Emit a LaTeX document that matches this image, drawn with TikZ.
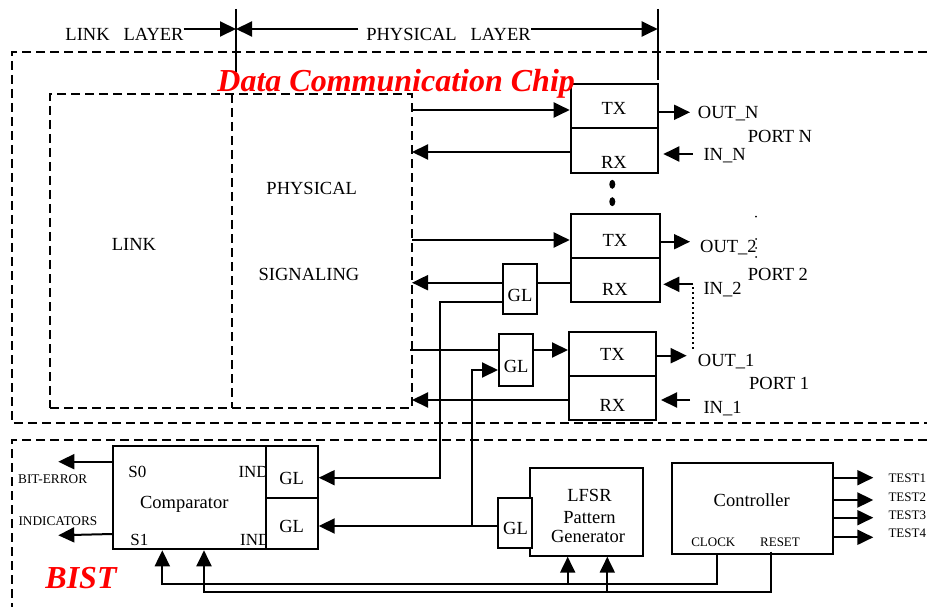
\documentclass[tikz,border=0pt]{standalone}
\usepackage{fontspec}
\setmainfont{Liberation Serif}
\usetikzlibrary{arrows.meta}
\begin{document}
\begin{tikzpicture}[x=1pt,y=-1pt,
  ln/.style={line width=2pt},
  arr/.style={line width=2pt,-{Triangle[length=16pt,width=15pt]}},
  dsh/.style={line width=2pt,dash pattern=on 9pt off 5pt},
  dotl/.style={line width=2pt,dash pattern=on 2pt off 3pt},
  blk/.style={draw,line width=2pt,inner sep=0pt,fill=white},
  txtL/.style={inner sep=0pt,font=\fontsize{18.5}{20}\selectfont,text height=12.2pt,text depth=0pt},
  txtM/.style={inner sep=0pt,font=\fontsize{17}{19}\selectfont,text height=11.2pt,text depth=0pt},
  txtS/.style={inner sep=0pt,font=\fontsize{13.3}{15}\selectfont,text height=8.8pt,text depth=0pt},
  txtT/.style={inner sep=0pt,font=\fontsize{13}{15}\selectfont,text height=8.6pt,text depth=0pt},
  ttl/.style={inner sep=0pt,text=red,font=\fontsize{32}{34}\selectfont\bfseries\itshape,text height=21pt,text depth=0pt}
]
\useasboundingbox (0,0) rectangle (927,607);

% frames
\draw[dsh] (927,52) -- (12,52) -- (12,423) -- (927,423);
\draw[dsh] (927,440) -- (12,440) -- (12,607);
\node[draw,dsh,inner sep=0pt,minimum width=362pt,minimum height=314pt] (layers) at (231,251) {};
\draw[dsh] (232,94) -- (232,408);
\node[txtL] (lnk) at (134,244) {LINK};
\node[txtL] (phy1) at (311.7,188) {PHYSICAL};
\node[txtL] (phy2) at (309,274) {SIGNALING};

% layer markers
\node[txtL] (ll) at (124.5,34) {LINK\hspace{0.75em}LAYER};
\node[txtL] (pl) at (448.5,34) {PHYSICAL\ \ \ LAYER};
\coordinate (lb) at (236,29);
\coordinate (pb) at (657.7,29);
\coordinate (plstart) at (358.3,29);
\draw[ln] (236,9) -- (236,72);
\draw[ln] (657.7,9) -- (657.7,80);
\draw[arr] (ll.east |- lb) -- (lb);
\draw[arr] (plstart) -- (lb);
\draw[arr] (pl.east |- pb) -- (pb);

% port N
\node[blk,minimum width=87pt,minimum height=43.7pt] (txN) at (614.2,105.85) {};
\node[blk,minimum width=87pt,minimum height=45.6pt] (rxN) at (614.2,150.5) {};
\node[txtL] (txNl) at (614,108.3) {TX};
\node[txtL] (rxNl) at (614,162.3) {RX};
\draw[arr] (412,110) -- (txN.west |- 0,110);
\draw[arr] (rxN.west |- 0,152) -- (412,152);
\node[txtL,anchor=west] (outN) at (697.7,112.3) {OUT\_N};
\node[txtL,anchor=west] (inN) at (703.3,154) {IN\_N};
\node[txtL,anchor=west] (portN) at (747.7,136) {PORT N};
\draw[arr] (txN.east |- 0,112.3) -- (690,112.3);
\draw[arr] (692.7,154) -- (663.3,154);
\fill (612.3,184.3) ellipse [x radius=3pt, y radius=4.5pt];
\fill (612.3,201.7) ellipse [x radius=3pt, y radius=4.5pt];

% port 2
\node[blk,minimum width=89.3pt,minimum height=44.3pt] (tx2) at (615.35,236.15) {};
\node[blk,minimum width=89.3pt,minimum height=43.4pt] (rx2) at (615.35,280) {};
\node[txtL] (tx2l) at (615,240.7) {TX};
\node[txtL] (rx2l) at (615,289.3) {RX};
\node[blk,minimum width=34.6pt,minimum height=50pt] (gl2) at (520,289) {};
\node[txtL] (gl2l) at (520,295) {GL};
\draw[arr] (412,240) -- (tx2.west |- 0,240);
\draw[ln] (rx2.west |- 0,282.7) -- (gl2.east |- 0,282.7);
\draw[arr] (gl2.west |- 0,282.7) -- (412,282.7);
\node[txtL,anchor=west] (out2) at (700,246) {OUT\_2};
\node[txtL,anchor=west] (in2) at (703.3,288.3) {IN\_2};
\node[txtL,anchor=west] (port2) at (747.7,274.3) {PORT 2};
\draw[arr] (tx2.east |- 0,241.7) -- (690,241.7);
\draw[arr] (693.3,284.3) -- (663.3,284.3);
\draw[dotl] (693.3,287) -- (693.3,351);
\foreach \yy in {216.7,239,248,257} \fill (756,\yy) circle (1pt);

% port 1
\node[blk,minimum width=87pt,minimum height=43.7pt] (tx1) at (612.5,353.85) {};
\node[blk,minimum width=87pt,minimum height=44.3pt] (rx1) at (612.5,397.85) {};
\node[txtL] (tx1l) at (612.5,354) {TX};
\node[txtL] (rx1l) at (612.5,405) {RX};
\node[blk,minimum width=34.3pt,minimum height=52pt] (gl1) at (516.15,360) {};
\node[txtL] (gl1l) at (516.15,366.7) {GL};
\draw[ln] (410,350) -- (gl1.west |- 0,350);
\draw[arr] (gl1.east |- 0,350) -- (tx1.west |- 0,350);
\draw[arr] (rx1.west |- 0,400) -- (412,400);
\node[txtL,anchor=west] (out1) at (697.7,360) {OUT\_1};
\node[txtL,anchor=west] (in1) at (703.3,407.3) {IN\_1};
\node[txtL,anchor=west] (port1) at (749,383.3) {PORT 1};
\draw[arr] (tx1.east |- 0,355.7) -- (686.7,355.7);
\draw[arr] (690,400) -- (661,400);

% BIST: comparator
\node[blk,minimum width=152.4pt,minimum height=103.3pt] (cmp) at (189.5,497.65) {};
\node[txtM] (s0) at (137.3,472.3) {S0};
\node[txtM] (s1) at (139.3,540) {S1};
\node[txtL] (cmpl) at (184.3,502.3) {Comparator};
\node[txtM,anchor=west] (ind1) at (238.3,472) {IND};
\node[txtM,anchor=west] (ind2) at (240,540) {IND};
\node[blk,minimum width=52pt,minimum height=52.3pt] (glA) at (291.7,472.15) {};
\node[blk,minimum width=52pt,minimum height=51pt] (glB) at (291.7,523.8) {};
\node[txtL] (glAl) at (291.7,478) {GL};
\node[txtL] (glBl) at (291.7,526) {GL};
\node[txtS,anchor=west] (biterr) at (18,479.3) {BIT-ERROR};
\node[txtS,anchor=west] (indic) at (18.3,521) {INDICATORS};
\draw[arr] (cmp.west |- 0,461.7) -- (58.3,461.7);
\draw[arr] (cmp.west |- 0,534) -- (58.3,535.3);

% LFSR
\node[blk,minimum width=113.3pt,minimum height=88pt] (lfsr) at (586.65,511.7) {};
\node[blk,minimum width=34pt,minimum height=50pt] (glL) at (514.7,522.7) {};
\node[txtL] (glLl) at (515.5,528) {GL};
\node[txtL] (lf1) at (589.5,495) {LFSR};
\node[txtL] (lf2) at (589.5,517.3) {Pattern};
\node[txtL] (lf3) at (588,536) {Generator};

% Controller
\node[blk,minimum width=161.6pt,minimum height=90.7pt] (ctl) at (752.5,508.65) {};
\node[txtL] (ctll) at (751.7,500.7) {Controller};
\node[txtT] (clk) at (713.3,541.7) {CLOCK};
\node[txtT] (rst) at (780,541.7) {RESET};
\foreach \yy/\ty/\nm in {477.7/478.3/1,500/497/2,517.7/514.7/3,537.3/532.8/4}{
  \draw[arr] (ctl.east |- 0,\yy) -- (873.3,\yy);
  \node[txtT,anchor=west] (test\nm) at (888.3,\ty) {TEST\nm};
}

% wiring between port GLs and comparator
\draw[arr] (gl2.west |- 0,302.3) -- (440,302.3) -- (440,477.7) -- (glA.east |- 0,477.7);
\draw[arr] (glL.west |- 0,526) -- (glB.east |- 0,526);
\draw[arr] (471.7,526) -- (471.7,370) -- (gl1.west |- 0,370);

% clock and reset
\draw[arr] (ctl.south -| 716.7,0) -- (716.7,584) -- (162.3,584) -- (cmp.south -| 162.3,0);
\draw[arr] (567.7,584) -- (lfsr.south -| 567.7,0);
\draw[arr] (770.7,551.7) -- (770.7,592) -- (204,592) -- (cmp.south -| 204,0);
\draw[arr] (607.3,592) -- (lfsr.south -| 607.3,0);

% titles
\node[ttl] (chip) at (396.2,81.2) {Data Communication Chip};
\node[ttl] (bist) at (81,578) {BIST};
\end{tikzpicture}
\end{document}
